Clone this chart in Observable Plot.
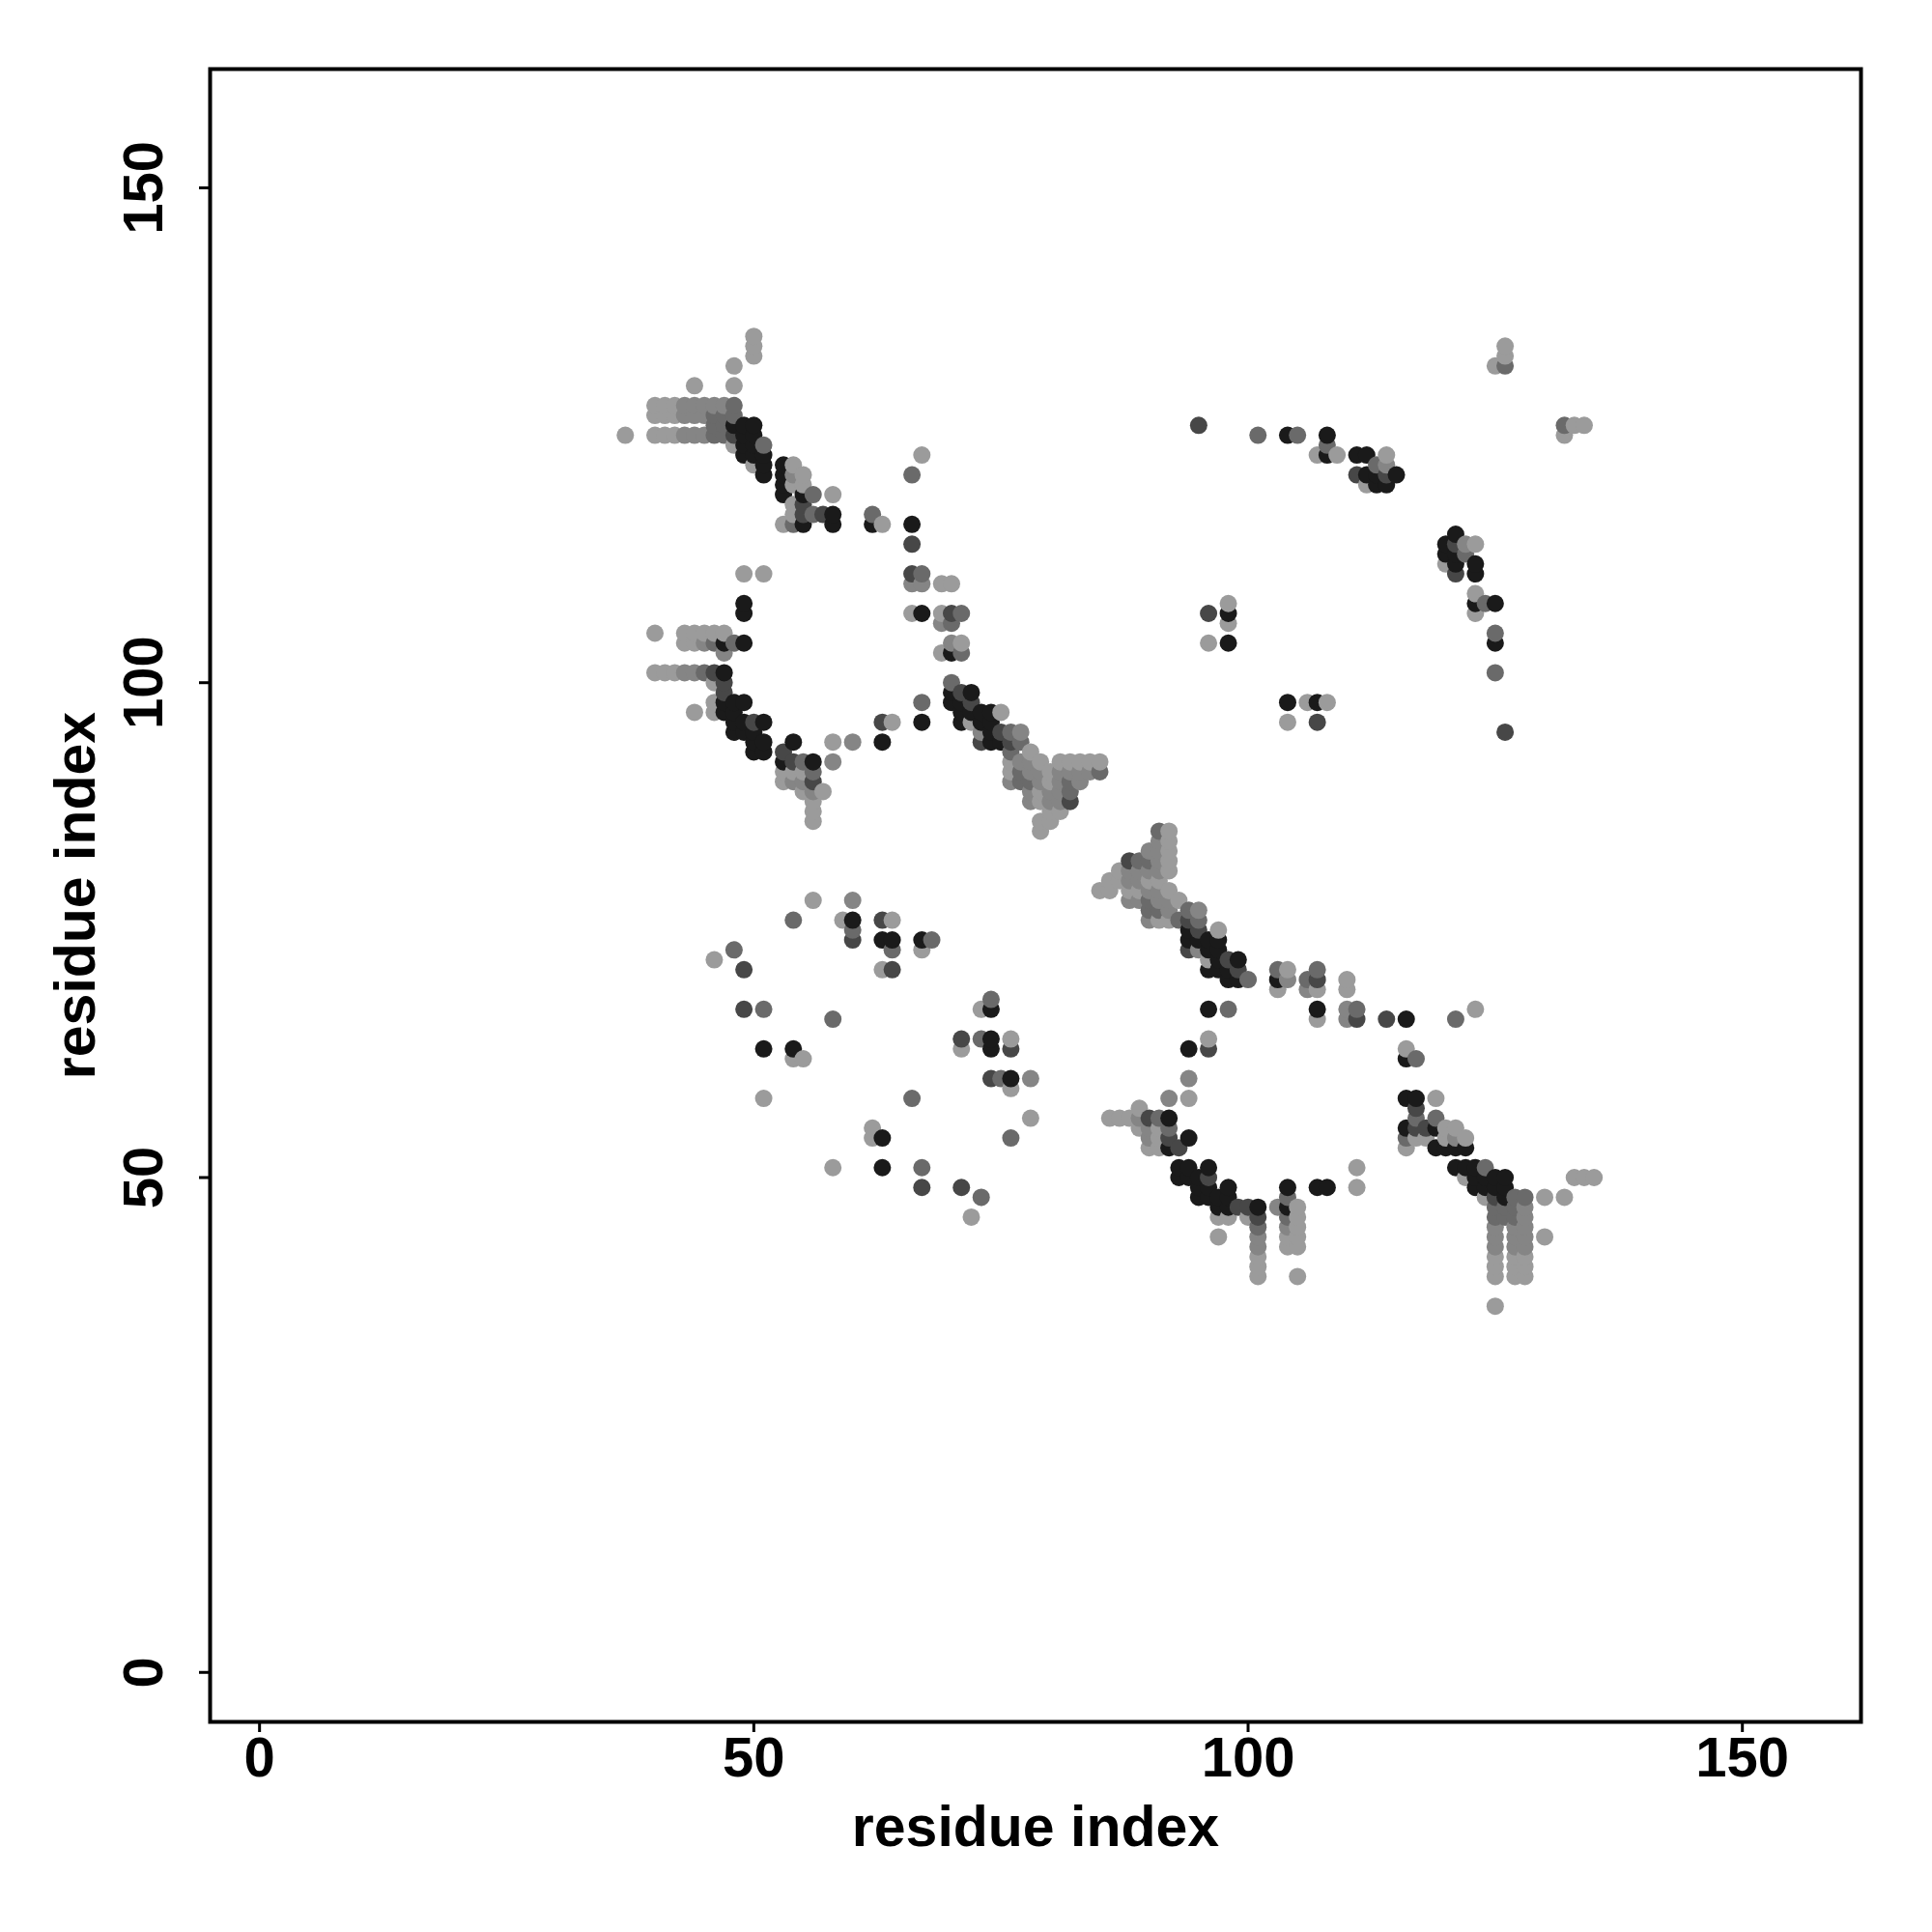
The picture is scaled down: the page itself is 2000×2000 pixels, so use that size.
<!DOCTYPE html>
<html>
<head>
<meta charset="utf-8">
<script src="https://cdn.jsdelivr.net/npm/d3@7"></script>
<script src="https://cdn.jsdelivr.net/npm/@observablehq/plot@0.6"></script>
<style>
  html, body { margin: 0; padding: 0; background: #fff; }
  #chart { width: 2000px; height: 2000px; }
</style>
</head>
<body>
<div id="chart"></div>
<script>
// Contacts above the diagonal: [residue i, residue j, contact strength level 1 (weak) .. 5 (strong)]
const upperLeft = [
[50,135,1],[50,134,1],[50,133,1],[48,132,1],[44,130,1],[48,130,1],
[40,128,1],[41,128,1],[42,128,1],[43,128,2],[44,128,2],[45,128,2],[46,128,2],[47,128,2],[48,128,3],
[40,127,1],[41,127,1],[42,127,1],[43,127,2],[44,127,2],[45,127,2],[46,127,3],[47,127,3],[48,127,3],
[46,126,3],[47,126,3],
[37,125,1],[40,125,1],[41,125,1],[42,125,1],[43,125,2],[44,125,2],[45,125,2],[46,125,3],[47,125,3],
[48,126,5],[48,125,4],[48,124,1],[49,126,5],[50,126,5],[49,125,5],[49,124,5],[49,123,5],[50,125,5],[50,124,5],[50,123,5],[50,122,1],[51,124,3],[51,123,5],[51,122,5],[51,121,5],
[53,122,5],[53,121,5],[53,120,5],[53,119,5],[54,122,1],[54,121,2],[54,120,1],[55,121,1],[55,120,1],[55,119,5],[56,119,3],[58,119,1],
[54,118,1],[55,118,4],[54,117,1],[55,117,4],[56,117,3],[57,117,4],[58,117,5],
[53,116,1],[54,116,3],[55,116,5],[58,116,5],[62,117,3],[62,116,5],[63,116,1],
[49,111,1],[51,111,1],[67,123,1],[66,121,3],[66,116,5],[66,114,4],
[66,111,4],[67,111,3],[66,110,2],[67,110,2],[69,110,1],[70,110,1],
[49,108,5],[49,107,5],
[40,105,1],[43,105,1],[44,105,1],[45,105,1],[46,105,1],[47,105,1],
[43,104,1],[44,104,1],[45,104,2],[46,104,3],[47,104,5],[48,104,3],[49,104,5],[47,103,2],
[40,101,1],[41,101,1],[42,101,1],[43,101,2],[44,101,2],[45,101,3],[46,101,4],[47,101,5],
[46,100,1],[47,100,4],[47,99,4],[44,97,1],[46,98,1],[46,97,1],[47,98,5],[47,97,5],[48,98,5],[49,98,5],[48,97,5],
[48,96,5],[48,95,5],[49,96,5],[49,95,5],[50,96,4],[51,96,5],[50,95,5],[50,94,5],[51,94,5],[50,93,5],[51,93,5],
[53,93,4],[53,92,5],[54,94,5],[54,92,4],[55,92,3],[56,92,5],
[53,91,1],[54,91,1],[55,91,1],[53,90,1],[54,90,2],[55,90,2],[56,91,3],[56,90,4],[56,89,2],[56,88,1],[56,87,1],[56,86,1],[57,89,1],[55,89,1],
[58,94,1],[60,94,2],[58,92,2],[63,96,4],[64,96,1],[63,94,5],
[66,107,1],[67,107,5],[69,107,1],[70,107,4],[71,107,3],[69,106,2],[70,106,3],
[70,104,2],[71,104,1],[69,103,1],[70,103,5],[71,103,3],[67,98,3],[67,96,5],
[70,100,3],[70,99,5],[71,99,4],[72,99,5],[70,98,5],[71,98,5],[71,97,5],[71,96,5],[72,98,4],[72,97,5],[72,96,1],[73,97,5],[73,96,5],[73,95,2],[73,94,4],[74,97,5],[75,97,1],[74,96,5],[74,95,5],[74,94,5],[75,95,4],[75,94,5],[76,95,3],[77,95,2],[76,94,4],[76,93,3],[77,94,3],
[78,93,1],[79,92,1],[80,91,1],[76,92,1],[76,91,1],[76,90,2],[77,92,2],[77,91,3],[77,90,3],[78,92,2],[78,91,2],[78,90,3],[79,91,2],[79,90,2],[78,89,2],[79,89,1],[80,90,1],[80,89,2],[78,88,2],[79,88,1],[80,88,2],[80,87,1],[81,87,1],[79,86,1],[80,86,1],[79,85,1],
[81,92,1],[82,92,1],[83,92,1],[84,92,1],[85,92,1],[85,91,3],[81,91,2],[82,91,2],[83,91,2],[84,91,2],[81,90,2],[82,90,3],[83,90,2],[81,89,2],[82,89,3],[82,88,4],[81,88,2]
];

const lowerLeft = [
[56,78,1],[60,78,2],[54,76,3],[59,76,1],[60,76,5],[60,75,3],[60,74,4],[63,76,4],[64,76,1],[63,74,5],[64,74,5],[64,73,3],
[67,74,5],[68,74,3],[67,73,1],[63,71,1],[64,71,4],[48,73,3],[46,72,1],[49,71,4],[49,67,4],[51,67,3],[58,66,3],
[51,63,5],[54,63,5],[54,62,1],[55,62,1],[51,58,1]
];

const upperRight = [
[95,126,4],[101,125,3],[104,125,5],[105,125,3],[108,125,5],[108,124,3],[108,123,5],[107,123,1],[109,123,1],
[111,123,5],[112,123,5],[114,123,1],[113,122,3],[114,122,2],[111,121,4],[112,121,5],[113,121,5],[114,121,4],[115,121,5],
[112,120,1],[113,120,5],[114,120,5],
[126,134,1],[126,133,1],[126,132,3],[125,132,1],
[96,107,4],[98,108,1],[98,107,5],[98,106,1],[96,104,1],[98,104,5]
];

const tickValues = [0, 50, 100, 150];
const strengthLevels = [1, 2, 3, 4, 5];
const strengthGrays = ["#9b9b9b", "#858585", "#6a6a6a", "#474747", "#1a1a1a"];

// The contact map is symmetric: each contact (i, j) also appears as (j, i)
const contacts = [];
for (const [i, j, s] of [...upperLeft, ...lowerLeft, ...upperRight]) {
  contacts.push({x: i, y: j, s});
  contacts.push({x: j, y: i, s});
}
contacts.sort((a, b) => a.x - b.x || a.y - b.y);

const font = "'Liberation Sans', Arial, Helvetica, sans-serif";

const chart = Plot.plot({
  width: 2000,
  height: 2000,
  marginLeft: 217,
  marginRight: 74,
  marginTop: 71,
  marginBottom: 218,
  style: {fontFamily: font, fontWeight: "bold", background: "#fff", color: "#000"},
  x: {domain: [-5, 162], axis: null},
  y: {domain: [-5, 162], axis: null},
  color: {type: "ordinal", domain: strengthLevels, range: strengthGrays},
  marks: [
    Plot.dot(contacts, {x: "x", y: "y", r: 9, fill: "s", stroke: "none"}),
    Plot.frame({stroke: "#000", strokeWidth: 4}),
    Plot.axisX({ticks: tickValues, tickSize: 11, tickFormat: d => "", strokeWidth: 3, stroke: "#000", label: null}),
    Plot.axisY({ticks: tickValues, tickSize: 11, tickFormat: d => "", strokeWidth: 3, stroke: "#000", label: null}),
    Plot.text(tickValues, {x: d => d, frameAnchor: "bottom", dy: 38, text: d => String(d), fontSize: 58, fontWeight: "bold", lineAnchor: "middle", textAnchor: "middle"}),
    Plot.text(tickValues, {y: d => d, frameAnchor: "left", dx: -68, rotate: -90, text: d => String(d), fontSize: 58, fontWeight: "bold", lineAnchor: "middle", textAnchor: "middle"}),
    Plot.text(["residue index"], {frameAnchor: "bottom", dy: 110, fontSize: 59, fontWeight: "bold", lineAnchor: "middle", textAnchor: "middle"}),
    Plot.text(["residue index"], {frameAnchor: "left", dx: -138, rotate: -90, fontSize: 59, fontWeight: "bold", lineAnchor: "middle", textAnchor: "middle"})
  ]
});

document.getElementById("chart").appendChild(chart);
</script>
</body>
</html>
